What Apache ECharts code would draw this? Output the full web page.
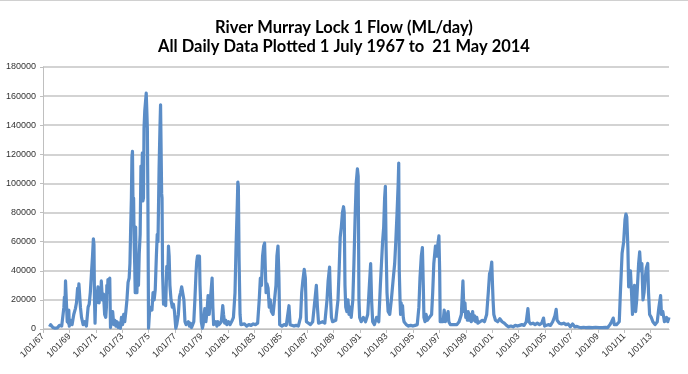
<!DOCTYPE html>
<html>
<head>
<meta charset="utf-8">
<script src="https://cdn.jsdelivr.net/npm/echarts@6/dist/echarts.min.js"></script>
<style>
html,body{margin:0;padding:0;background:#fff;}
#chart{width:688px;height:374px;}
</style>
</head>
<body>
<div id="chart"></div>
<script>
// Flow readings (date, ML/day)
const flow1960s = [
  ['1967-07-01',1500],['1967-08-01',3000],['1967-09-01',2500],['1967-10-01',1000],['1967-12-01',500],
  ['1968-02-01',800],['1968-04-01',2500],['1968-06-01',2000],['1968-07-15',3000],['1968-08-01',15000],
  ['1968-08-15',22000],['1968-09-01',18000],['1968-09-15',33000],['1968-10-01',34000],['1968-10-15',15000],
  ['1968-11-01',5000],['1968-11-15',12000],['1968-12-01',4000],['1968-12-15',13000],['1968-12-28',2000],
  ['1969-01-10',1000],['1969-02-01',6000],['1969-03-15',3000],['1969-05-01',10000],['1969-06-15',14000],
  ['1969-07-15',18000],['1969-08-15',28000],['1969-09-01',24000],['1969-09-20',31000],['1969-10-10',30000],
  ['1969-11-01',15000],['1969-12-01',8000]
];
const flow1970s = [
  ['1970-01-15',3000],['1970-03-01',5000],['1970-04-15',2000],['1970-06-01',15000],['1970-07-01',17000],
  ['1970-08-01',25000],['1970-09-01',38000],['1970-10-01',50000],['1970-10-25',62000],['1970-11-10',58000],
  ['1970-11-25',20000],['1970-12-10',4000],
  ['1971-01-01',25000],['1971-01-20',18000],['1971-02-01',22000],['1971-03-01',29000],['1971-03-20',20000],
  ['1971-04-01',18000],['1971-05-01',27000],['1971-05-20',22000],['1971-06-01',33000],['1971-07-01',20000],
  ['1971-08-01',24000],['1971-09-01',10000],['1971-10-01',8000],['1971-10-20',15000],
  ['1971-11-01',30000],['1971-11-20',25000],['1971-12-01',34000],
  ['1972-01-01',26000],['1972-01-20',35000],['1972-02-10',1000],['1972-03-10',8000],['1972-04-10',12000],
  ['1972-05-10',3000],['1972-06-10',6000],['1972-07-10',2000],['1972-08-10',5000],['1972-09-10',1000],
  ['1972-10-10',4000],['1972-11-10',500],['1972-12-10',8000],
  ['1973-01-10',3000],['1973-02-10',10000],['1973-03-10',5000],['1973-04-10',12000],['1973-05-10',20000],
  ['1973-06-10',32000],['1973-07-10',35000],['1973-08-01',45000],['1973-08-20',68000],['1973-09-10',90000],
  ['1973-09-25',118000],['1973-10-10',122000],['1973-10-25',85000],['1973-11-10',90000],['1973-11-25',60000],
  ['1973-12-10',45000],['1973-12-25',25000],
  ['1974-01-05',70000],['1974-01-20',45000],['1974-02-10',25000],['1974-03-01',50000],['1974-03-25',30000],
  ['1974-04-15',52000],['1974-05-10',65000],['1974-06-01',112000],['1974-06-20',90000],['1974-07-10',121000],
  ['1974-07-25',88000],['1974-08-10',90000],['1974-08-25',138000],['1974-09-15',150000],['1974-10-25',162000],
  ['1974-11-10',150000],['1974-11-25',138000],['1974-12-10',90000],['1974-12-28',500],
  ['1975-01-10',500],['1975-01-25',12000],['1975-03-01',15000],['1975-04-01',13000],['1975-05-01',25000],
  ['1975-06-01',20000],['1975-07-01',27000],['1975-08-01',50000],['1975-08-25',65000],['1975-09-15',60000],
  ['1975-10-15',110000],['1975-11-10',140000],['1975-11-25',154000],['1975-12-10',153000],['1975-12-25',93000],
  ['1976-01-05',90000],['1976-01-20',38000],['1976-02-15',17000],['1976-03-15',22000],['1976-04-15',16000],
  ['1976-05-15',43000],['1976-06-10',35000],['1976-07-01',57000],['1976-07-20',50000],['1976-08-10',30000],
  ['1976-09-10',20000],['1976-10-15',15000],['1976-11-15',17000],['1976-12-15',12000],
  ['1977-01-20',500],['1977-02-15',3000],['1977-04-01',10000],['1977-05-01',22000],['1977-06-01',25000],
  ['1977-07-01',29000],['1977-08-01',28000],['1977-09-01',20000],['1977-10-01',5000],['1977-11-01',3000],
  ['1977-12-01',2000],
  ['1978-01-01',5000],['1978-02-01',2000],['1978-03-01',4000],['1978-04-01',1000],['1978-05-01',3000],
  ['1978-06-01',5000],['1978-07-01',20000],['1978-08-01',38000],['1978-08-20',46000],['1978-09-10',50000],
  ['1978-10-10',50000],['1978-11-05',50000],['1978-11-20',30000],['1978-12-05',20000],['1978-12-25',5000],
  ['1979-01-25',500],['1979-02-15',3000],['1979-04-01',14000],['1979-05-01',5000],['1979-06-01',12000],
  ['1979-07-01',23000],['1979-08-01',10000],['1979-09-01',20000],['1979-10-20',35000],['1979-11-10',15000],
  ['1979-12-01',3000]
];
const flow1980s = [
  ['1980-01-01',2000],['1980-02-01',5000],['1980-03-01',2000],['1980-04-01',5000],['1980-05-01',3000],
  ['1980-07-01',5000],['1980-08-10',16000],['1980-09-01',10000],['1980-10-01',4000],['1980-11-01',6000],
  ['1980-12-01',3000],
  ['1981-01-15',5000],['1981-03-01',3000],['1981-05-01',6000],['1981-06-01',8000],['1981-07-15',25000],
  ['1981-08-10',54000],['1981-09-15',85000],['1981-10-01',101000],['1981-10-15',98000],['1981-11-05',47000],
  ['1981-12-01',10000],['1981-12-25',3000],
  ['1982-02-01',2500],['1982-04-01',3500],['1982-06-01',2000],['1982-08-01',3000],['1982-10-01',2500],
  ['1982-12-01',3500],
  ['1983-02-01',3000],['1983-04-01',4000],['1983-05-15',20000],['1983-06-15',35000],['1983-07-15',30000],
  ['1983-08-15',50000],['1983-09-15',57000],['1983-10-10',59000],['1983-11-01',40000],['1983-11-20',25000],
  ['1983-12-15',31000],
  ['1984-01-15',28000],['1984-02-15',15000],['1984-03-15',20000],['1984-04-15',12000],['1984-06-01',10000],
  ['1984-07-15',10000],['1984-08-20',30000],['1984-09-15',50000],['1984-10-15',57000],['1984-11-10',35000],
  ['1984-12-01',3000],
  ['1985-02-01',2000],['1985-04-01',3000],['1985-06-01',2500],['1985-08-15',16000],['1985-09-15',3000],
  ['1985-11-01',2000],
  ['1986-01-01',2000],['1986-03-01',2500],['1986-05-01',2000],['1986-07-01',8000],['1986-08-01',25000],
  ['1986-09-01',33000],['1986-10-10',41000],['1986-11-10',35000],['1986-12-10',5000],
  ['1987-02-01',4000],['1987-04-01',3000],['1987-06-01',5000],['1987-08-01',20000],['1987-09-10',30000],
  ['1987-10-10',15000],['1987-11-10',4000],
  ['1988-01-01',3000],['1988-03-01',5000],['1988-05-01',4000],['1988-07-01',20000],['1988-08-01',33000],
  ['1988-09-10',42500],['1988-10-01',25000],['1988-11-01',8000],['1988-12-01',5000],
  ['1989-01-15',4000],['1989-03-01',6000],['1989-05-01',20000],['1989-06-01',40000],['1989-07-01',63000],
  ['1989-08-01',70000],['1989-09-01',80000],['1989-10-01',84000],['1989-10-20',80000],['1989-11-10',30000],
  ['1989-12-01',15000]
];
const flow1990s = [
  ['1990-01-01',12000],['1990-02-01',20000],['1990-03-01',10000],['1990-04-01',15000],['1990-05-01',8000],
  ['1990-06-15',20000],['1990-07-15',45000],['1990-08-15',75000],['1990-09-15',100000],['1990-10-20',110000],
  ['1990-11-10',105000],['1990-12-01',20000],['1990-12-20',8000],
  ['1991-02-01',5000],['1991-04-01',8000],['1991-06-01',5000],['1991-08-01',10000],['1991-09-15',30000],
  ['1991-10-20',45000],['1991-11-15',20000],['1991-12-15',5000],
  ['1992-02-01',3000],['1992-04-01',8000],['1992-06-01',5000],['1992-07-15',30000],['1992-08-15',45000],
  ['1992-09-15',60000],['1992-10-15',70000],['1992-11-10',90000],['1992-12-01',98000],['1992-12-20',57000],
  ['1993-01-15',25000],['1993-02-15',12000],['1993-04-01',10000],['1993-05-15',20000],['1993-07-01',33000],
  ['1993-08-15',45000],['1993-09-15',60000],['1993-10-20',80000],['1993-11-20',100000],['1993-12-05',114000],
  ['1993-12-20',40000],
  ['1994-01-10',20000],['1994-01-25',10000],['1994-02-10',18000],['1994-03-01',12000],['1994-03-20',16000],
  ['1994-04-10',8000],['1994-05-01',5000],['1994-07-01',3000],['1994-09-01',2000],['1994-11-01',2500],
  ['1995-01-01',2000],['1995-03-01',2500],['1995-05-01',3000],['1995-06-15',15000],['1995-07-15',35000],
  ['1995-08-20',50000],['1995-09-20',56000],['1995-10-15',30000],['1995-11-01',8000],['1995-12-01',5000],
  ['1996-01-01',10000],['1996-02-01',6000],['1996-04-01',8000],['1996-06-01',10000],['1996-07-01',25000],
  ['1996-08-01',45000],['1996-09-15',57000],['1996-10-20',50000],['1996-11-20',58000],['1996-12-20',64000],
  ['1997-01-10',40000],['1997-01-25',5000],['1997-03-01',6000],['1997-04-15',5000],['1997-05-15',13000],
  ['1997-06-15',5000],['1997-09-01',12000],['1997-09-20',5000],['1997-11-01',3000],['1997-12-15',4000],
  ['1998-01-15',3000],['1998-03-01',4000],['1998-05-01',3000],['1998-07-01',5000],['1998-09-01',10000],
  ['1998-10-15',33000],['1998-11-01',20000],['1998-11-20',12000],['1998-12-10',18000],
  ['1999-01-01',8000],['1999-01-20',12000],['1999-02-15',6000],['1999-03-10',12000],['1999-04-01',6000],
  ['1999-05-01',10000],['1999-06-01',5000],['1999-06-20',9000],['1999-07-10',12000],['1999-08-01',6000],
  ['1999-09-01',9000],['1999-10-01',5000],['1999-11-01',8000],['1999-12-01',4000]
];
const flow2000s = [
  ['2000-02-01',5000],['2000-04-01',6000],['2000-06-01',5000],['2000-08-01',10000],['2000-09-15',25000],
  ['2000-10-20',38000],['2000-11-20',40000],['2000-12-20',46000],
  ['2001-01-10',30000],['2001-01-25',20000],['2001-02-15',10000],['2001-04-01',6000],['2001-06-01',5000],
  ['2001-08-01',7000],['2001-10-01',5000],['2001-12-01',4000],
  ['2002-02-01',2500],['2002-04-01',1500],['2002-06-01',2000],['2002-08-01',1500],['2002-10-01',2500],
  ['2002-12-01',2000],
  ['2003-02-01',2500],['2003-04-01',3000],['2003-06-01',2500],['2003-08-01',5000],['2003-09-15',14000],
  ['2003-10-15',5000],['2003-12-01',3500],
  ['2004-02-01',4000],['2004-04-01',3000],['2004-06-01',4000],['2004-08-01',3000],['2004-10-01',4000],
  ['2004-11-20',7500],['2004-12-20',2000],
  ['2005-02-01',1500],['2005-04-01',3000],['2005-06-01',2500],['2005-08-01',5000],['2005-10-01',9000],
  ['2005-11-05',13500],['2005-12-01',6000],
  ['2006-02-01',4000],['2006-04-01',3500],['2006-06-01',4000],['2006-08-01',3000],['2006-10-01',3500],
  ['2006-12-01',1500],
  ['2007-02-01',3500],['2007-04-01',1500],['2007-06-01',1800],['2007-08-01',1200],['2007-10-01',1000],
  ['2007-12-01',1200],
  ['2008-02-01',1000],['2008-05-01',1100],['2008-08-01',1000],['2008-11-01',1200],
  ['2009-02-01',1000],['2009-05-01',900],['2009-08-01',1100],['2009-10-01',1000],['2009-12-01',3000]
];
const flow2010s = [
  ['2010-01-15',5000],['2010-03-01',7500],['2010-04-01',3000],['2010-06-01',3000],['2010-08-15',5000],
  ['2010-09-15',25000],['2010-11-01',52000],['2010-12-15',60000],
  ['2011-01-20',75000],['2011-02-15',79000],['2011-03-10',77000],['2011-04-10',56000],['2011-05-01',29000],
  ['2011-05-20',35000],['2011-06-20',40000],['2011-07-20',25000],['2011-08-15',10000],['2011-09-10',20000],
  ['2011-10-10',30000],['2011-11-10',12000],['2011-12-10',20000],
  ['2012-01-01',30000],['2012-02-01',45000],['2012-03-01',53000],['2012-04-01',40000],['2012-05-01',45000],
  ['2012-06-01',20000],['2012-07-01',25000],['2012-08-01',35000],['2012-09-01',42000],['2012-10-10',45000],
  ['2012-11-01',25000],['2012-12-01',10000],
  ['2013-01-15',8000],['2013-03-01',5000],['2013-05-01',3000],['2013-07-01',5000],['2013-08-15',15000],
  ['2013-10-01',23000],['2013-10-25',10000],['2013-12-01',12000],
  ['2014-01-15',5000],['2014-02-15',4000],['2014-03-15',8000],['2014-04-15',5000],['2014-05-21',8000]
];
const xTickLabels = ['1/01/67','1/01/69','1/01/71','1/01/73','1/01/75','1/01/77','1/01/79','1/01/81',
  '1/01/83','1/01/85','1/01/87','1/01/89','1/01/91','1/01/93','1/01/95','1/01/97','1/01/99','1/01/01',
  '1/01/03','1/01/05','1/01/07','1/01/09','1/01/11','1/01/13'];
const titleLines = ['River Murray Lock 1 Flow (ML/day)', 'All Daily Data Plotted 1 July 1967 to  21 May 2014'];

const BASE_YEAR = 1967;
function yearsSinceBase(s) {
  const [y, m, d] = s.split('-').map(Number);
  const t = Date.UTC(y, m - 1, d), y0 = Date.UTC(y, 0, 1), y1 = Date.UTC(y + 1, 0, 1);
  return y - BASE_YEAR + (t - y0) / (y1 - y0);
}
const allFlows = [].concat(flow1960s, flow1970s, flow1980s, flow1990s, flow2000s, flow2010s);
const seriesData = allFlows.map(r => [yearsSinceBase(r[0]), r[1]]);
const xMax = yearsSinceBase('2014-05-21');

const chart = echarts.init(document.getElementById('chart'), null, {renderer: 'canvas'});
chart.setOption({
  animation: false,
  backgroundColor: '#ffffff',
  graphic: [{
    type: 'line', silent: true,
    shape: {x1: 0, y1: 0.5, x2: 688, y2: 0.5},
    style: {stroke: '#d0d0d0', lineWidth: 1}
  }],
  title: {
    text: titleLines.join('\n'),
    left: 'center',
    top: 13,
    textStyle: {fontFamily: 'Lato', fontWeight: 'bold', fontSize: 16.5, lineHeight: 19, color: '#000'}
  },
  grid: {left: 43, right: 19, top: 67, bottom: 45},
  xAxis: {
    type: 'value',
    min: 0,
    max: xMax,
    interval: 2,
    axisLine: {lineStyle: {color: '#bfbfbf', width: 1}},
    axisTick: {show: true, length: 4, lineStyle: {color: '#bfbfbf'}},
    splitLine: {show: false},
    axisLabel: {
      rotate: 45,
      margin: 6,
      fontFamily: 'Liberation Sans',
      fontSize: 9,
      color: '#333',
      showMaxLabel: false,
      formatter: v => xTickLabels[Math.round(v / 2)] || ''
    }
  },
  yAxis: {
    type: 'value',
    min: 0,
    max: 180000,
    interval: 20000,
    axisLine: {show: true, lineStyle: {color: '#bfbfbf', width: 1}},
    axisTick: {show: true, length: 3, lineStyle: {color: '#bfbfbf'}},
    splitLine: {lineStyle: {color: '#c4c4c4', width: 1.5}},
    axisLabel: {fontFamily: 'Liberation Sans', fontSize: 9, color: '#333', margin: 7, formatter: v => String(v)}
  },
  series: [{
    type: 'line',
    data: seriesData,
    showSymbol: false,
    symbol: 'none',
    lineStyle: {color: '#5b8dc7', width: 3.2, join: 'round'},
    itemStyle: {color: '#5b8dc7'}
  }]
});
</script>
</body>
</html>
